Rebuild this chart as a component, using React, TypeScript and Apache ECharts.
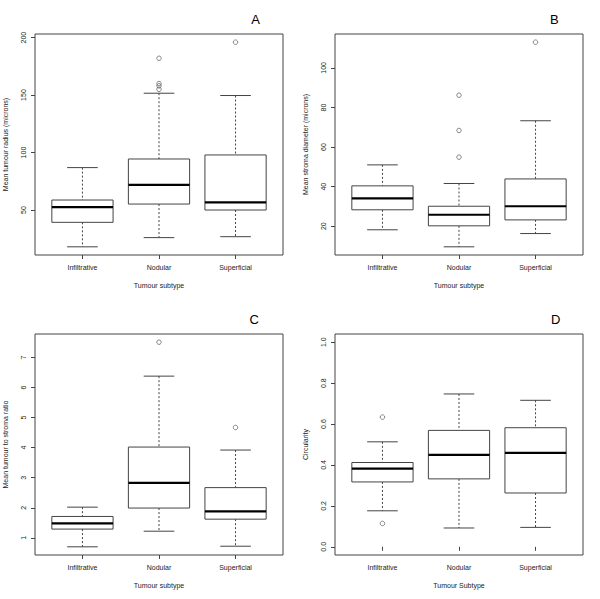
import React, { useEffect, useRef } from "react";
import * as echarts from "echarts";

const categories = ["Infiltrative", "Nodular", "Superficial"];

// each row: [lower whisker, Q1, median, Q3, upper whisker]
const radiusStats = [
  [18, 39.3, 52.6, 58.7, 86.9],
  [26, 55.2, 71.8, 94.4, 151.6],
  [26.8, 50, 56.7, 97.9, 149.6],
];
const radiusOutliers = [[2, 182], [2, 160], [2, 158], [2, 155], [3, 196]];
const radiusTicks = [50, 100, 150, 200];

const stromaStats = [
  [18.2, 28.3, 34.1, 40.4, 51],
  [9.6, 20.2, 25.8, 30.1, 41.6],
  [16.3, 23.2, 30.1, 43.9, 73.3],
];
const stromaOutliers = [[2, 86.2], [2, 68.4], [2, 54.9], [3, 113]];
const stromaTicks = [20, 40, 60, 80, 100];

const ratioStats = [
  [0.7, 1.29, 1.48, 1.71, 2.02],
  [1.22, 1.99, 2.83, 4.02, 6.38],
  [0.72, 1.62, 1.88, 2.67, 3.92],
];
const ratioOutliers = [[2, 7.51], [3, 4.67]];
const ratioTicks = [1, 2, 3, 4, 5, 6, 7];

const circStats = [
  [0.176, 0.317, 0.382, 0.412, 0.513],
  [0.092, 0.332, 0.449, 0.569, 0.747],
  [0.095, 0.263, 0.459, 0.582, 0.716],
];
const circOutliers = [[1, 0.634], [1, 0.114]];
const circTicks = [0, 0.2, 0.4, 0.6, 0.8, 1.0];

const FONT = "Liberation Sans, Arial, Helvetica, sans-serif";
const LINE = "#444";
const TEXT = "#222";

function rExtend(lo: number, hi: number): [number, number] {
  const d = (hi - lo) * 0.04;
  return [lo - d, hi + d];
}
function dataRange(stats: number[][], outs: number[][]): [number, number] {
  const vals = stats.flat().concat(outs.map((o) => o[1]));
  return [Math.min(...vals), Math.max(...vals)];
}

const panels = [
  { label: "A", stats: radiusStats, outs: radiusOutliers, ticks: radiusTicks, yName: "Mean tumour radius (microns)", xName: "Tumour subtype", lim: rExtend(...dataRange(radiusStats, radiusOutliers)), dec: 0 },
  { label: "B", stats: stromaStats, outs: stromaOutliers, ticks: stromaTicks, yName: "Mean stroma diameter (microns)", xName: "Tumour subtype", lim: rExtend(...dataRange(stromaStats, stromaOutliers)), dec: 0 },
  { label: "C", stats: ratioStats, outs: ratioOutliers, ticks: ratioTicks, yName: "Mean tumour to stroma ratio", xName: "Tumour subtype", lim: rExtend(...dataRange(ratioStats, ratioOutliers)), dec: 0 },
  { label: "D", stats: circStats, outs: circOutliers, ticks: circTicks, yName: "Circularity", xName: "Tumour Subtype", lim: rExtend(0, 1), dec: 1 },
];

export default function App() {
  const ref = useRef<HTMLDivElement>(null);
  useEffect(() => {
    if (!ref.current) return;
    const chart = echarts.init(ref.current, null, { renderer: "svg" });
    const offsets = [
      [0, 0],
      [300, 0],
      [0, 300],
      [300, 300],
    ];
    const labelX = [255.7, 554.3, 254.3, 555.7];
    const grid: any[] = [];
    const xAxis: any[] = [];
    const yAxis: any[] = [];
    const series: any[] = [];
    const graphic: any[] = [];
    panels.forEach((p, i) => {
      const [ox, oy] = offsets[i];
      grid.push({
        left: ox + 35,
        top: oy + 34,
        width: 248,
        height: 221,
        show: true,
        borderColor: LINE,
        borderWidth: 1,
        backgroundColor: "transparent",
      });
      xAxis.push({
        type: "value",
        gridIndex: i,
        min: 0.38,
        max: 3.62,
        splitLine: { show: false },
        axisLine: { show: false },
        axisTick: { show: true, customValues: [1, 2, 3], length: 4, lineStyle: { color: LINE } },
        axisLabel: {
          customValues: [1, 2, 3],
          formatter: (v: number) => categories[Math.round(v) - 1] ?? "",
          fontSize: 7,
          fontFamily: FONT,
          color: TEXT,
          margin: 9,
        },
        name: p.xName,
        nameLocation: "middle",
        nameGap: 27,
        nameTextStyle: { fontSize: 7, fontFamily: FONT, color: TEXT },
      });
      yAxis.push({
        type: "value",
        gridIndex: i,
        min: p.lim[0],
        max: p.lim[1],
        splitLine: { show: false },
        axisLine: { show: false },
        axisTick: { show: true, customValues: p.ticks, length: 4, lineStyle: { color: LINE } },
        axisLabel: {
          customValues: p.ticks,
          rotate: 90,
          formatter: (v: number) => v.toFixed(p.dec),
          fontSize: 7,
          fontFamily: FONT,
          color: TEXT,
          margin: 8,
        },
        name: p.yName,
        nameLocation: "middle",
        nameRotate: 90,
        nameGap: 26,
        nameTextStyle: { fontSize: 7, fontFamily: FONT, color: TEXT },
      });
      series.push({
        type: "custom",
        xAxisIndex: i,
        yAxisIndex: i,
        encode: { x: 0, y: [1, 2, 3, 4, 5] },
        data: p.stats.map((s, k) => [k + 1, ...s]),
        renderItem: (params: any, api: any) => {
          const x = api.value(0);
          const lo = api.coord([x, api.value(1)]);
          const q1 = api.coord([x, api.value(2)]);
          const md = api.coord([x, api.value(3)]);
          const q3 = api.coord([x, api.value(4)]);
          const hi = api.coord([x, api.value(5)]);
          const w = api.size([0.8, 0])[0];
          const cw = api.size([0.4, 0])[0];
          const cx = lo[0];
          const dashed = { stroke: LINE, lineWidth: 1, lineDash: [2, 2], fill: null };
          const solid = { stroke: LINE, lineWidth: 1, fill: null };
          return {
            type: "group",
            children: [
              { type: "line", shape: { x1: cx, y1: hi[1], x2: cx, y2: q3[1] }, style: dashed },
              { type: "line", shape: { x1: cx, y1: q1[1], x2: cx, y2: lo[1] }, style: dashed },
              { type: "line", shape: { x1: cx - cw / 2, y1: hi[1], x2: cx + cw / 2, y2: hi[1] }, style: solid },
              { type: "line", shape: { x1: cx - cw / 2, y1: lo[1], x2: cx + cw / 2, y2: lo[1] }, style: solid },
              {
                type: "rect",
                shape: { x: cx - w / 2, y: q3[1], width: w, height: q1[1] - q3[1] },
                style: { stroke: LINE, lineWidth: 1, fill: "#fff" },
              },
              {
                type: "line",
                shape: { x1: cx - w / 2, y1: md[1], x2: cx + w / 2, y2: md[1] },
                style: { stroke: "#000", lineWidth: 2.2 },
              },
            ],
          };
        },
        z: 2,
      });
      series.push({
        type: "scatter",
        xAxisIndex: i,
        yAxisIndex: i,
        data: p.outs,
        symbol: "circle",
        symbolSize: 4.5,
        itemStyle: { color: "rgba(255,255,255,0)", borderColor: LINE, borderWidth: 0.8 },
        emphasis: { disabled: true },
        z: 3,
      });
      graphic.push({
        type: "text",
        x: labelX[i],
        y: oy + 19,
        style: {
          text: p.label,
          fontSize: 13,
          fontFamily: FONT,
          fill: "#000",
          textAlign: "center",
          textVerticalAlign: "middle",
        },
      });
    });
    chart.setOption({
      animation: false,
      backgroundColor: "#fff",
      grid,
      xAxis,
      yAxis,
      series,
      graphic,
    });
    return () => chart.dispose();
  }, []);
  return (
    <div
      ref={ref}
      style={{ position: "fixed", left: 0, top: 0, width: 600, height: 599 }}
    />
  );
}
